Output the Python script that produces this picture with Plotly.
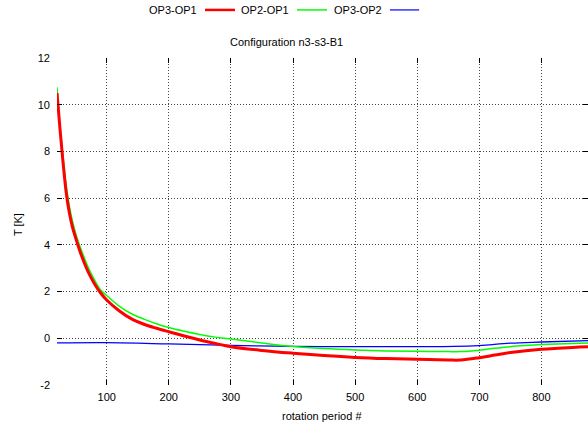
import plotly.graph_objects as go

# rotation period # (x) and temperature differences T [K]
x_red = [20, 25, 30, 35, 40, 45, 50, 55, 60, 70, 80, 90, 100, 120, 140, 160, 180, 200,
         225, 250, 275, 300, 350, 400, 450, 500, 550, 600, 650, 670, 700, 725, 750,
         775, 800, 850, 875]
op3_op1 = [10.5, 8.9, 7.45, 6.2, 5.35, 4.75, 4.3, 3.88, 3.5, 2.85, 2.35, 1.95, 1.64,
           1.18, 0.83, 0.6, 0.43, 0.28, 0.1, -0.07, -0.22, -0.36, -0.52, -0.64, -0.74,
           -0.82, -0.87, -0.9, -0.93, -0.93, -0.83, -0.72, -0.61, -0.53, -0.47, -0.39,
           -0.36]
op2_op1 = [10.75, 9.05, 7.7, 6.5, 5.65, 5.0, 4.5, 4.08, 3.72, 3.05, 2.52, 2.08, 1.83,
           1.38, 1.05, 0.82, 0.62, 0.46, 0.3, 0.16, 0.05, -0.03, -0.2, -0.35, -0.44,
           -0.5, -0.54, -0.56, -0.57, -0.57, -0.51, -0.43, -0.36, -0.31, -0.27, -0.22,
           -0.2]
x_blue = [20, 100, 200, 300, 400, 500, 600, 660, 700, 750, 800, 875]
op3_op2 = [-0.2, -0.19, -0.24, -0.3, -0.35, -0.36, -0.36, -0.35, -0.31, -0.21, -0.16,
           -0.1]

series_names = ["OP3-OP1", "OP2-OP1", "OP3-OP2"]
x_ticks = [100, 200, 300, 400, 500, 600, 700, 800]
y_ticks = [-2, 0, 2, 4, 6, 8, 10, 12]
y_tick_labels = ["-2", "0", "2", "4", "6", "8", "10", "12"]

FONT = "Liberation Sans, Arial, sans-serif"

fig = go.Figure()
fig.add_trace(go.Scatter(x=x_blue, y=op3_op2, mode="lines", name=series_names[2],
                         line=dict(color="#0000ff", width=1.3, shape="spline"),
                         showlegend=False))
fig.add_trace(go.Scatter(x=x_red, y=op2_op1, mode="lines", name=series_names[1],
                         line=dict(color="#00ff00", width=1.5, shape="spline"),
                         showlegend=False))
fig.add_trace(go.Scatter(x=x_red, y=op3_op1, mode="lines", name=series_names[0],
                         line=dict(color="#ff0000", width=3, shape="spline"),
                         showlegend=False))

axis_common = dict(showgrid=True, gridcolor="#444444", griddash="1px,2px", gridwidth=1,
                   zeroline=False, showline=False, ticks="inside", ticklen=5,
                   tickcolor="black", tickwidth=1, mirror="ticks",
                   tickfont=dict(family=FONT, size=11, color="black"))

fig.update_xaxes(range=[20, 875], tickvals=x_ticks, ticklabelstandoff=4, **axis_common)
fig.update_yaxes(range=[-2, 12], tickvals=y_ticks, ticktext=y_tick_labels,
                 ticklabelstandoff=6, **axis_common)

annotations = [
    dict(text="Configuration n3-s3-B1", x=0.433, y=1.049),
    dict(text="T [K]", x=-0.0734, y=0.489, textangle=-90),
    dict(text="rotation period #", x=0.499, y=-0.095),
]
legend_text_x = [0.2185, 0.3917, 0.566]
for name, lx in zip(series_names, legend_text_x):
    annotations.append(dict(text=name, x=lx, y=1.147))
for a in annotations:
    a.update(xref="paper", yref="paper", showarrow=False, xanchor="center",
             yanchor="middle", font=dict(family=FONT, size=11, color="black"))

legend_lines = [(0.2787, 0.3352, "#ff0000", 2.5), (0.452, 0.5085, "#00ff00", 1.5),
                (0.627, 0.682, "#0000ff", 1.2)]
shapes = [dict(type="line", xref="paper", yref="paper", x0=a, x1=b, y0=1.147,
               y1=1.147, line=dict(color=c, width=w)) for a, b, c, w in legend_lines]

fig.update_layout(width=588, height=425, margin=dict(l=57, r=0, t=58, b=40),
                  plot_bgcolor="white", paper_bgcolor="white",
                  annotations=annotations, shapes=shapes,
                  font=dict(family=FONT, size=11, color="black"))

fig.write_html("out.html")
